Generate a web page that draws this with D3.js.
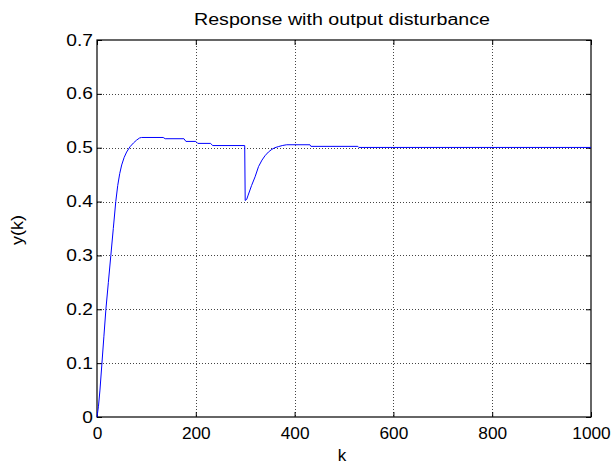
<!DOCTYPE html>
<html>
<head>
<meta charset="utf-8">
<script src="https://cdn.jsdelivr.net/npm/d3@7"></script>
<style>
  body { margin: 0; background: #fff; }
  svg text { font-family: 'Liberation Sans', Arial, sans-serif; fill: #000; }
</style>
</head>
<body>
<div id="svg-container"></div>
<script>
// Data
var kValues = [0, 3, 6, 10, 14, 18, 23, 28, 33, 38, 42, 46, 50, 55, 60, 67, 74, 80, 86, 90, 134, 138, 176, 180, 200, 204, 230, 234, 299,
  300, 303, 306, 313, 320, 327, 334, 340, 347, 354, 360, 367, 375, 384, 431, 433, 528, 530, 1000]
var yValues = [0, 0.02, 0.05, 0.1, 0.15, 0.2, 0.25, 0.3, 0.35, 0.4, 0.43, 0.452, 0.468, 0.482, 0.492, 0.502, 0.509, 0.514, 0.518, 0.519, 0.519, 0.5167, 0.5167, 0.5117, 0.5117, 0.508, 0.508, 0.504, 0.504,
  0.402, 0.404, 0.412, 0.43, 0.446, 0.465, 0.477, 0.485, 0.492, 0.497, 0.5, 0.502, 0.504, 0.5055, 0.5055, 0.5025, 0.5025, 0.5005, 0.5005]
var xTicks = [0, 200, 400, 600, 800, 1000]
var yTicks = [0, 0.1, 0.2, 0.3, 0.4, 0.5, 0.6, 0.7]

var svgWidth = 614,
  svgHeight = 467,
  margin = { top: 40, right: 23, bottom: 50, left: 97 }
var width = svgWidth - margin.left - margin.right,
  height = svgHeight - margin.top - margin.bottom

var svg = d3
  .select('#svg-container')
  .append('svg')
  .attr('width', svgWidth)
  .attr('height', svgHeight)

var xScale = d3.scaleLinear().domain([0, 1000]).range([0, width])
var yScale = d3.scaleLinear().domain([0, 0.7]).range([height, 0])

var g = svg
  .append('g')
  .attr('transform', 'translate(' + margin.left + ',' + margin.top + ')')

// grid
g.append('g')
  .selectAll('line')
  .data(xTicks.slice(1, -1))
  .join('line')
  .attr('x1', d => Math.round(xScale(d)) + 0.5)
  .attr('x2', d => Math.round(xScale(d)) + 0.5)
  .attr('y1', 0)
  .attr('y2', height)
  .attr('stroke', '#444')
  .attr('stroke-dasharray', '1,2')

g.append('g')
  .selectAll('line')
  .data(yTicks.slice(1, -1))
  .join('line')
  .attr('y1', d => Math.round(yScale(d)) + 0.5)
  .attr('y2', d => Math.round(yScale(d)) + 0.5)
  .attr('x1', 0)
  .attr('x2', width)
  .attr('stroke', '#444')
  .attr('stroke-dasharray', '1,2')

// axes with inward ticks
var xAxis = d3.axisBottom(xScale).tickValues(xTicks).tickSizeInner(-5).tickSizeOuter(0).tickPadding(11)
  .tickFormat(d3.format('d'))
var yAxis = d3.axisLeft(yScale).tickValues(yTicks).tickSizeInner(-5).tickSizeOuter(0).tickPadding(4)
  .tickFormat(d => (d === 0 ? '0' : d3.format('.1f')(d)))

var gx = g.append('g').attr('transform', 'translate(0,' + height + ')').call(xAxis)
var gy = g.append('g').call(yAxis)
g.append('g').call(d3.axisTop(xScale).tickValues(xTicks).tickSizeInner(-5).tickSizeOuter(0).tickFormat(''))
g.append('g').attr('transform', 'translate(' + width + ',0)')
  .call(d3.axisRight(yScale).tickValues(yTicks).tickSizeInner(-5).tickSizeOuter(0).tickFormat(''))

g.selectAll('.domain').remove()
g.selectAll('.tick line').attr('stroke', '#000')
gx.selectAll('text').style('font-size', '16px').attr('transform', 'scale(1.08,1)')
gy.selectAll('text').style('font-size', '16px')
  .attr('transform', 'scale(1.2,1)').attr('x', -4 / 1.2)

g.append('rect')
  .attr('x', 0)
  .attr('y', 0)
  .attr('width', width)
  .attr('height', height)
  .attr('fill', 'none')
  .attr('stroke', '#000')
  .attr('stroke-width', 1.2)

// response curve
var linegen = d3
  .line()
  .x(d => xScale(d[0]))
  .y(d => yScale(d[1]))

g.append('path')
  .datum(kValues.map((k, i) => [k, yValues[i]]))
  .attr('fill', 'none')
  .attr('stroke', '#0000ff')
  .attr('stroke-width', 1)
  .attr('d', linegen)

// labels
svg.append('text')
  .attr('x', 342)
  .attr('y', 25)
  .style('text-anchor', 'middle')
  .style('font-size', '16px')
  .attr('textLength', 296)
  .attr('lengthAdjust', 'spacingAndGlyphs')
  .text('Response with output disturbance')

svg.append('text')
  .attr('x', 342)
  .attr('y', 461)
  .style('text-anchor', 'middle')
  .style('font-size', '17px')
  .text('k')

svg.append('text')
  .attr('transform', 'translate(23,230) rotate(-90)')
  .style('text-anchor', 'middle')
  .style('font-size', '16px')
  .attr('textLength', 30)
  .attr('lengthAdjust', 'spacingAndGlyphs')
  .text('y(k)')
</script>
</body>
</html>
